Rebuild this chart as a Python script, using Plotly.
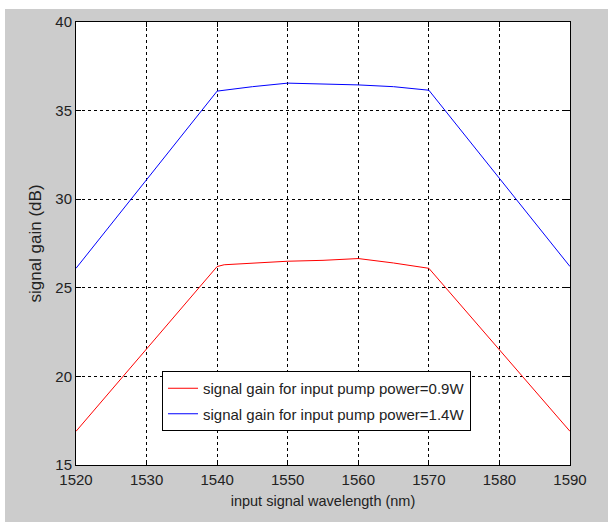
import plotly.graph_objects as go

# Signal gain versus input signal wavelength for two pump powers
wavelength_09 = [1520, 1540, 1541, 1545, 1550, 1555, 1560, 1565, 1570, 1590]
gain_09 = [16.9, 26.2, 26.3, 26.4, 26.5, 26.55, 26.65, 26.4, 26.1, 16.9]

wavelength_14 = [1520, 1540, 1545, 1550, 1555, 1560, 1565, 1570, 1590]
gain_14 = [26.1, 36.1, 36.35, 36.55, 36.5, 36.45, 36.35, 36.15, 26.2]

x_ticks = [1520, 1530, 1540, 1550, 1560, 1570, 1580, 1590]
y_ticks = [15, 20, 25, 30, 35, 40]

FONT = "Liberation Sans, Arial, sans-serif"

fig = go.Figure()
fig.add_trace(go.Scatter(
    x=wavelength_09, y=gain_09, mode="lines",
    line=dict(color="#ff0000", width=1), legendgroup="a",
    name="signal gain for input pump power=0.9W"))
fig.add_trace(go.Scatter(
    x=wavelength_14, y=gain_14, mode="lines",
    line=dict(color="#0000ff", width=1), legendgroup="b",
    name="signal gain for input pump power=1.4W"))

L, R, T, B = 76, 38, 22, 57
W, H = 608, 522
pw, ph = W - L - R, H - T - B

axis_common = dict(
    showline=True, linecolor="black", linewidth=1, mirror="ticks",
    ticks="inside", ticklen=5, tickcolor="black",
    showgrid=True, gridcolor="black", gridwidth=1, griddash="3px,3px",
    zeroline=False, tickfont=dict(family=FONT, size=15, color="#222222"),
)

fig.update_layout(
    width=W, height=H,
    margin=dict(l=L, r=R, t=T, b=B),
    paper_bgcolor="#cccccc", plot_bgcolor="white",
    font=dict(family=FONT, color="#222222"),
    xaxis=dict(range=[1520, 1590], tickvals=x_ticks, ticklabelstandoff=1,
               title=dict(text="input signal wavelength (nm)",
                          font=dict(size=14.5), standoff=8),
               **axis_common),
    yaxis=dict(range=[15, 40], tickvals=y_ticks,
               title=dict(text="signal gain (dB)",
                          font=dict(size=17), standoff=9),
               **axis_common),
    legend=dict(x=(162 - L) / pw, y=(465 - 371) / ph,
                xanchor="left", yanchor="top",
                bgcolor="white", bordercolor="black", borderwidth=1,
                font=dict(family=FONT, size=15, color="#222222"),
                traceorder="grouped", tracegroupgap=3),
    showlegend=True,
    shapes=[
        # white strips along the top and left edge of the figure
        dict(type="rect", xref="paper", yref="paper",
             x0=-L / pw, x1=(W - L) / pw, y0=1 + (T - 9) / ph, y1=1 + T / ph + 0.01,
             fillcolor="white", line=dict(width=0), layer="below"),
        dict(type="rect", xref="paper", yref="paper",
             x0=-L / pw - 0.01, x1=-(L - 5) / pw, y0=-B / ph - 0.01, y1=1 + T / ph + 0.01,
             fillcolor="white", line=dict(width=0), layer="below"),
    ],
)

fig.write_html("out.html")
